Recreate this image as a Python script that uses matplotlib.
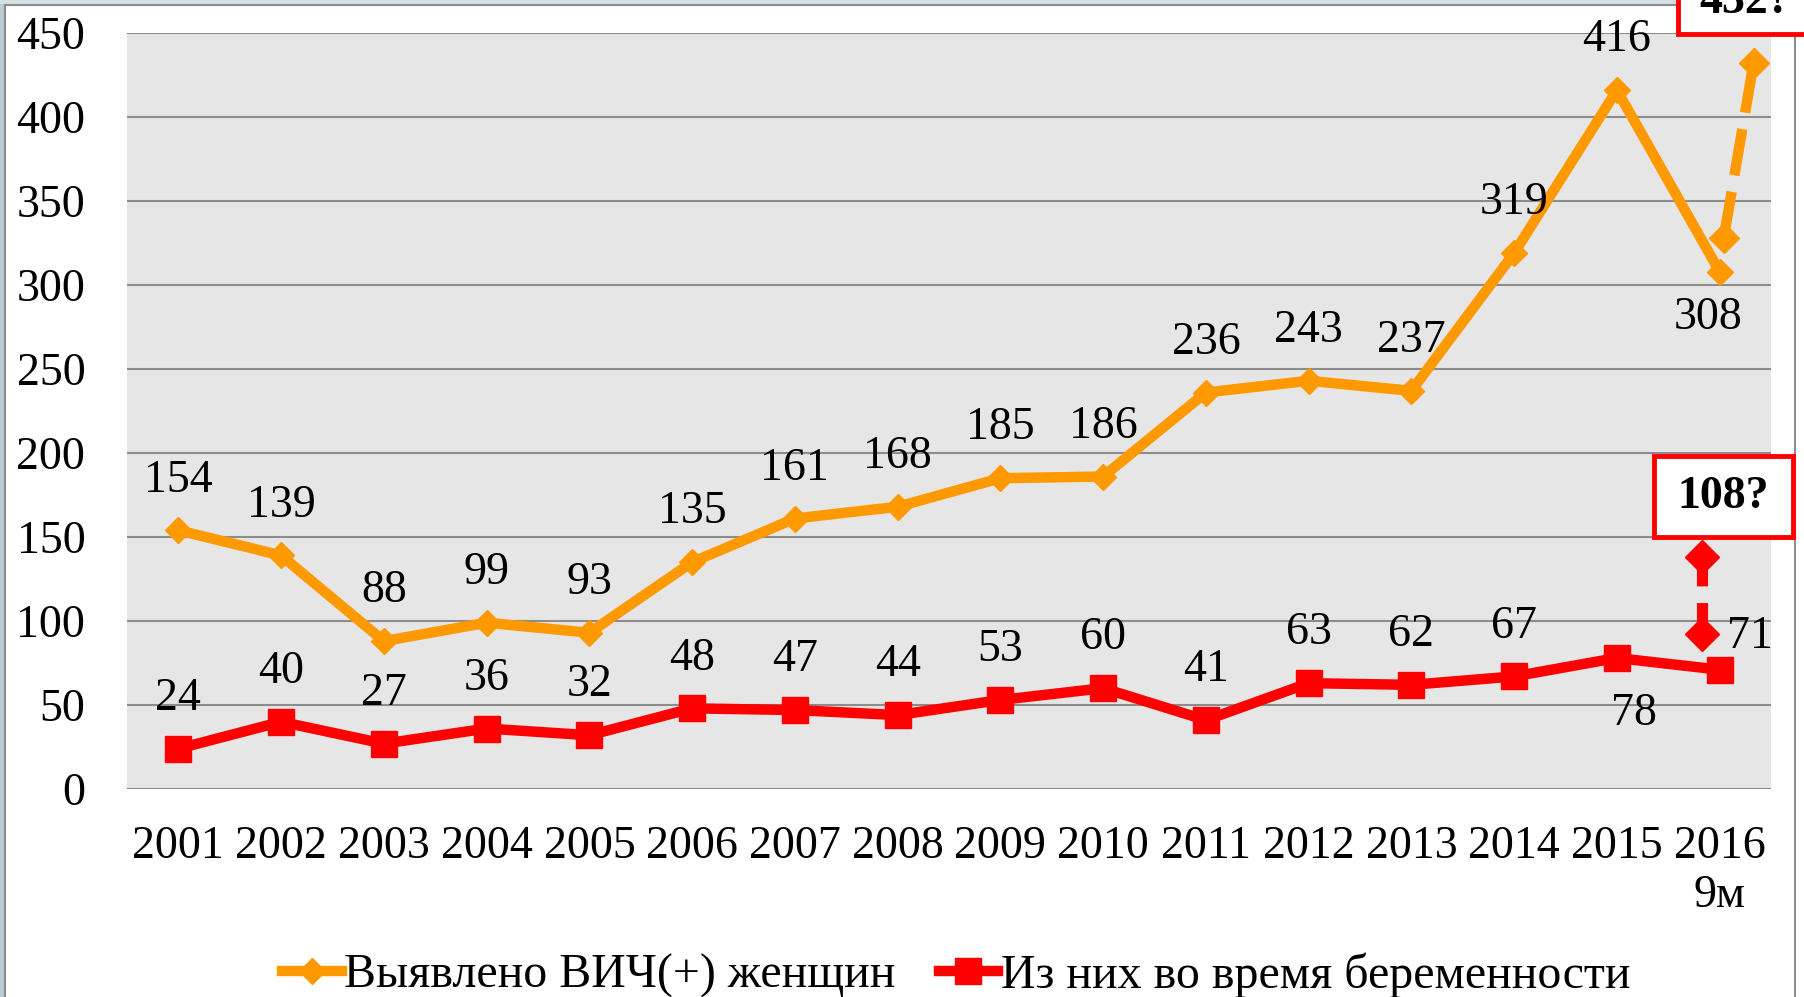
import matplotlib
matplotlib.use('Agg')
import matplotlib.pyplot as plt
from matplotlib.patches import Rectangle
from matplotlib.lines import Line2D

plt.rcParams['font.family'] = ['Liberation Serif', 'DejaVu Serif']

# Данные
years = ['2001', '2002', '2003', '2004', '2005', '2006', '2007', '2008',
         '2009', '2010', '2011', '2012', '2013', '2014', '2015', '2016\n9м']
women_hiv = [154, 139, 88, 99, 93, 135, 161, 168, 185, 186, 236, 243, 237, 319, 416, 308]
pregnant = [24, 40, 27, 36, 32, 48, 47, 44, 53, 60, 41, 63, 62, 67, 78, 71]
# прогноз на весь 2016 год (пунктир)
women_forecast = [328, 432]
pregnant_forecast = [92, 138]
women_forecast_label = '432?'
pregnant_forecast_label = '108?'

orange = '#FF9900'
red = '#FF0000'
W, H = 1804, 997
fs = 33

fig = plt.figure(figsize=(W / 100, H / 100), dpi=100)
fig.patch.set_facecolor('white')

# рамка слайда
fig.patches.append(Rectangle((0, 0), 4 / W, 1, transform=fig.transFigure,
                             facecolor='#BCCBD2', edgecolor='none', zorder=0))
fig.patches.append(Rectangle((0, 1 - 4 / H), 1, 4 / H, transform=fig.transFigure,
                             facecolor='#D5E0E5', edgecolor='none', zorder=0))
fig.add_artist(Line2D([5 / W, 5 / W], [0, 1 - 5 / H], transform=fig.transFigure,
                      color='#8C8C8C', lw=1.5))
fig.add_artist(Line2D([5 / W, 1795 / W], [1 - 5 / H, 1 - 5 / H], transform=fig.transFigure,
                      color='#8C8C8C', lw=1.5))
fig.add_artist(Line2D([1795 / W, 1795 / W], [0, 1 - 5 / H], transform=fig.transFigure,
                      color='#8C8C8C', lw=1.5))

ax = fig.add_axes([127 / W, 1 - 789 / H, (1771 - 127) / W, (789 - 33) / H])
ax.set_facecolor('#E6E6E6')

x = list(range(len(years)))
ax.plot(x, women_hiv, color=orange, lw=7.5, marker='D', ms=13.5, zorder=3,
        label='Выявлено ВИЧ(+) женщин')
ax.plot(x, pregnant, color=red, lw=7.5, marker='s', ms=18.5, zorder=3,
        label='Из них во время беременности')

# пунктирные стрелки прогноза
last = len(years) - 1
ax.plot([last + 0.04, last + 0.33], women_forecast, color=orange, lw=7.5,
        dashes=(4.5, 1.6), marker='D', ms=15, zorder=3)
ax.plot([last - 0.17, last - 0.17], pregnant_forecast[::-1], color=red, lw=8,
        dashes=(2.6, 1.5), marker='D', ms=17, zorder=3)

ax.set_xlim(-0.5, len(years) - 0.5)
ax.set_ylim(0, 450)
ax.set_yticks(range(0, 451, 50))
ax.set_xticks(x)
ax.set_xticklabels(years)
ax.yaxis.grid(True, color='#8C8C8C', lw=1.5)
ax.set_axisbelow(True)
for s in ax.spines.values():
    s.set_visible(False)
ax.tick_params(length=0, labelsize=fs)
ax.tick_params(axis='y', pad=30)
ax.tick_params(axis='x', pad=26)

# подписи значений
for i, v in enumerate(women_hiv):
    off = (0, 36)
    if i == last:
        off = (-8, -33)
    ax.annotate(str(v), (i, v), xytext=off, textcoords='offset points',
                ha='center', va='center', fontsize=fs, zorder=4)
for i, v in enumerate(pregnant):
    off = (0, 36)
    if i == last - 1:
        off = (12, -40)
    elif i == last:
        off = (22, 24)
    ax.annotate(str(v), (i, v), xytext=off, textcoords='offset points',
                ha='center', va='center', fontsize=fs, zorder=4)

# рамки с прогнозом
fig.patches.append(Rectangle((1654 / W, 1 - 537 / H), 139 / W, 81 / H,
                             transform=fig.transFigure, facecolor='white',
                             edgecolor=red, lw=3.5, zorder=5))
fig.text(1723 / W, 1 - 497 / H, pregnant_forecast_label, ha='center', va='center',
         fontsize=fs, fontweight='bold', zorder=6)
fig.patches.append(Rectangle((1678 / W, 1 - 34 / H), 139 / W, 90 / H,
                             transform=fig.transFigure, facecolor='white',
                             edgecolor=red, lw=3.5, zorder=5))
fig.text(1745 / W, 1 - 13 / H, women_forecast_label, ha='center', va='baseline',
         fontsize=fs, fontweight='bold', zorder=6)

leg = fig.legend(loc='center', bbox_to_anchor=(956 / W, 1 - 975 / H), ncol=2,
                 frameon=False, fontsize=34.5, handlelength=1.25, handletextpad=0.05,
                 columnspacing=0.9, borderaxespad=0)

fig.savefig('out.png', dpi=100)
